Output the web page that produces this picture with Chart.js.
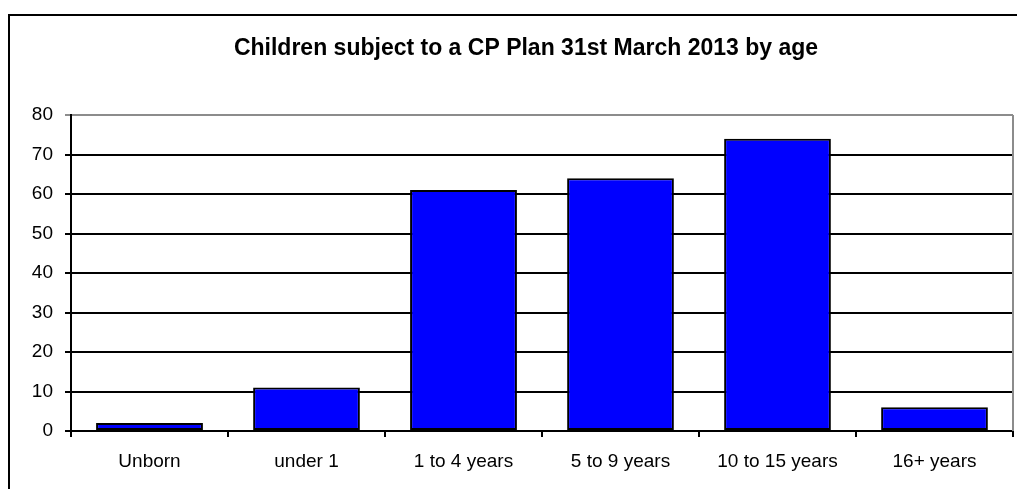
<!DOCTYPE html>
<html>
<head>
<meta charset="utf-8">
<script src="https://cdn.jsdelivr.net/npm/chart.js@4"></script>
<style>
  html,body{margin:0;padding:0;background:#fff;overflow:hidden;}
  #frame{position:absolute;left:8px;top:14px;width:1200px;height:600px;border-top:2px solid #000;border-left:2px solid #000;}
  #wrap{position:absolute;left:0;top:0;width:1017px;height:489px;}
</style>
</head>
<body>
<div id="frame"></div>
<div id="wrap"><canvas id="chart" width="1017" height="489"></canvas></div>
<script>
// chart data
const categories = ['Unborn','under 1','1 to 4 years','5 to 9 years','10 to 15 years','16+ years'];
const counts = [2, 11, 61, 64, 74, 6];
const yTicks = [0,10,20,30,40,50,60,70,80];
const chartTitle = 'Children subject to a CP Plan 31st March 2013 by age';

const FONT = "'Liberation Sans', Arial, sans-serif";

// gray right border of plot area + title (centred over the framed box, not the canvas)
const decorations = {
  id:'decorations',
  afterDraw(chart){
    const {ctx, chartArea:a} = chart;
    ctx.save();
    ctx.strokeStyle = '#8c8c8c';
    ctx.lineWidth = 2;
    ctx.beginPath();
    ctx.moveTo(a.right, a.top);
    ctx.lineTo(a.right, a.bottom);
    ctx.stroke();

    ctx.fillStyle = '#000';
    ctx.font = 'bold 23px ' + FONT;
    ctx.textAlign = 'center';
    ctx.textBaseline = 'middle';
    ctx.fillText(chartTitle, 526, 49);
    ctx.restore();
  }
};

new Chart(document.getElementById('chart').getContext('2d'), {
  type:'bar',
  data:{
    labels: categories,
    datasets:[{
      data: counts,
      backgroundColor:'#0000ff',
      borderColor:'#000',
      borderWidth:2,
      borderSkipped:false,
      categoryPercentage:1,
      barPercentage:0.68
    }]
  },
  options:{
    responsive:false,
    animation:false,
    layout:{padding:{left:0,right:4,top:115,bottom:0}},
    plugins:{
      legend:{display:false},
      tooltip:{enabled:false},
      title:{display:false}
    },
    scales:{
      x:{
        offset:true,
        grid:{offset:true,drawOnChartArea:false,drawTicks:true,tickLength:6,color:'#000',lineWidth:2},
        border:{color:'#000',width:2},
        ticks:{color:'#000',font:{family:FONT,size:19},padding:13,maxRotation:0},
        afterFit(s){ s.height = 58; }
      },
      y:{
        min:0,max:80,
        afterBuildTicks(s){ s.ticks = yTicks.map(v=>({value:v})); },
        grid:{
          tickLength:6,
          lineWidth:2,
          color:(c)=> c.tick && c.tick.value===80 ? '#8c8c8c' : '#000'
        },
        border:{color:'#000',width:2},
        ticks:{color:'#000',font:{family:FONT,size:19},padding:12},
        afterFit(s){ s.width = 71; }
      }
    }
  },
  plugins:[decorations]
});
</script>
</body>
</html>
